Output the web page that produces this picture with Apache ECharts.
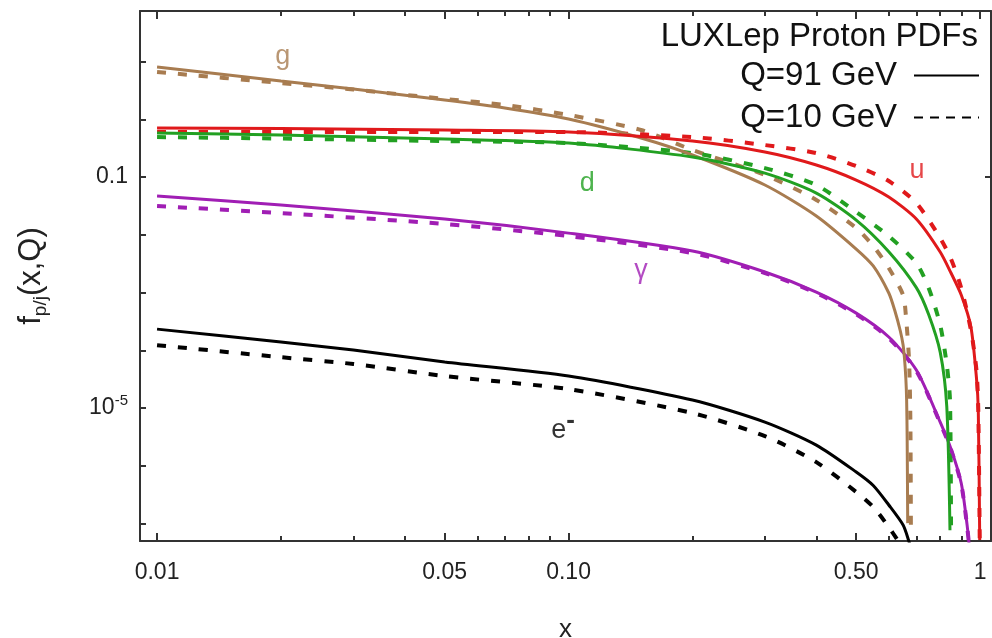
<!DOCTYPE html>
<html><head><meta charset="utf-8">
<script src="https://cdn.jsdelivr.net/npm/echarts@6/dist/echarts.min.js"></script>
<style>html,body{margin:0;padding:0;background:#fff}#c{width:992px;height:638px}</style>
</head><body><div id="c"></div>
<script>
// ---- axis ticks / labels ----
const xMajorTicks = [0.01, 0.05, 0.1, 0.5, 1];
const xMajorLabels = ['0.01', '0.05', '0.10', '0.50', '1'];
const xMinorTicks = [0.02, 0.03, 0.04, 0.06, 0.07, 0.08, 0.09, 0.2, 0.3, 0.4, 0.6, 0.7, 0.8, 0.9];
const yTicks = [1e-7, 1e-6, 1e-5, 1e-4, 1e-3, 1e-2, 0.1, 1, 10];
const yLabelValues = [0.1, 1e-5];

// ---- gluon g ----
const gX91 = [0.01, 0.02, 0.03, 0.05, 0.07, 0.1, 0.15, 0.2, 0.3, 0.4, 0.5, 0.55, 0.6, 0.62, 0.64, 0.65, 0.655, 0.66, 0.663, 0.665, 0.667];
const gQ91 = [8.05, 4.60, 3.35, 2.16, 1.57, 1.01, 0.474, 0.241, 0.0729, 0.0212, 5.68e-3, 2.89e-3, 9.83e-4, 4.99e-4, 2.16e-4, 1.24e-4, 7.37e-5, 3.32e-5, 1.38e-5, 2.8e-6, 1.02e-7];
const gX10 = [0.01, 0.02, 0.03, 0.05, 0.07, 0.1, 0.15, 0.2, 0.3, 0.4, 0.5, 0.55, 0.6, 0.65, 0.66, 0.672, 0.677, 0.679];
const gQ10 = [6.59, 4.25, 3.28, 2.25, 1.77, 1.19, 0.653, 0.294, 0.1086, 0.0401, 0.0131, 6.4e-3, 2.66e-3, 9.08e-4, 4.09e-4, 6.8e-5, 6.22e-6, 8.74e-8];

// ---- up quark u ----
const uX = [0.01, 0.02, 0.05, 0.1, 0.2, 0.3, 0.4, 0.5, 0.6, 0.7, 0.8, 0.85, 0.9, 0.95, 0.98, 0.99, 0.998];
const uQ91 = [0.707, 0.693, 0.653, 0.603, 0.421, 0.2716, 0.1618, 0.0889, 0.0452, 0.0188, 5.04e-3, 2.18e-3, 9.08e-4, 2.54e-4, 3.32e-5, 9.27e-6, 5.2e-8];
const uQ10 = [0.601, 0.601, 0.601, 0.601, 0.493, 0.358, 0.26, 0.155, 0.0853, 0.0355, 8.8e-3, 3.8e-3, 1.2e-3, 2.24e-4, 4.55e-5, 9.2e-6, 5.2e-8];

// ---- down quark d ----
const dX91 = [0.01, 0.02, 0.05, 0.1, 0.2, 0.3, 0.4, 0.5, 0.6, 0.7, 0.75, 0.8, 0.83, 0.845];
const dQ91 = [0.578, 0.533, 0.455, 0.388, 0.222, 0.117, 0.0528, 0.018, 5.1e-3, 1.22e-3, 4.17e-4, 9.3e-5, 1.06e-5, 7.7e-8];
const dX10 = [0.01, 0.02, 0.05, 0.1, 0.2, 0.3, 0.4, 0.5, 0.6, 0.7, 0.75, 0.8, 0.83, 0.845, 0.85];
const dQ10 = [0.493, 0.464, 0.42, 0.388, 0.26, 0.143, 0.0727, 0.0248, 9.5e-3, 3.24e-3, 1.2e-3, 2.74e-4, 5.6e-5, 1.38e-5, 7.7e-8];

// ---- photon gamma ----
const aX = [0.01, 0.02, 0.05, 0.1, 0.2, 0.3, 0.4, 0.5, 0.6, 0.7, 0.8, 0.85, 0.9, 0.93, 0.945];
const aQ91 = [0.0469, 0.0327, 0.0187, 0.0107, 5.23e-3, 2.27e-3, 1.02e-3, 4.41e-4, 1.7e-4, 4.55e-5, 5.7e-6, 1.95e-6, 5.0e-7, 9.4e-8, 3e-8];
const aQ10 = [0.0315, 0.0238, 0.0154, 9.5e-3, 4.83e-3, 2.18e-3, 9.8e-4, 4.2e-4, 1.63e-4, 4.4e-5, 5.5e-6, 1.9e-6, 4.8e-7, 9e-8, 3e-8];

// ---- electron e- ----
const eX91 = [0.01, 0.02, 0.03, 0.05, 0.1, 0.2, 0.3, 0.4, 0.5, 0.55, 0.6, 0.65, 0.67, 0.68];
const eQ91 = [2.33e-4, 1.39e-4, 1.01e-4, 6.26e-5, 3.58e-5, 1.38e-5, 5.73e-6, 2.29e-6, 7.83e-7, 4.57e-7, 2.10e-7, 9.46e-8, 5.2e-8, 3.5e-8];
const eX10 = [0.01, 0.02, 0.03, 0.05, 0.1, 0.2, 0.3, 0.4, 0.5, 0.55, 0.6, 0.63, 0.65];
const eQ10 = [1.23e-4, 7.6e-5, 5.8e-5, 3.58e-5, 2.13e-5, 8.2e-6, 3.27e-6, 1.16e-6, 3.53e-7, 1.94e-7, 8.74e-8, 5.2e-8, 3.8e-8];

// ---- curve label anchors (data coords) ----
const curveLabels = [
  { name: 'g', x: 0.0202, y: 11.97, color: '#a87c50' },
  { name: 'u', x: 0.703, y: 0.132, color: '#e0191b' },
  { name: 'd', x: 0.111, y: 0.0787, color: '#22a022' },
  { name: 'γ', x: 0.15, y: 2.45e-3, color: '#a01eb4' },
  { name: '{e|e}{s|-}', x: 0.097, y: 4.16e-6, color: '#000000' }
];

const FONT = '"Liberation Sans", Arial, sans-serif';
const colors = { g: '#a87c50', u: '#e0191b', d: '#22a022', a: '#a01eb4', e: '#000000' };
const pairs = (xs, ys) => xs.map((x, i) => [x, ys[i]]);
const isPow = (v, p) => Math.abs(Math.log10(v) - p) < 1e-6;

function mk(name, xs, ys, color, dashed, z) {
  return {
    type: 'line', name: name, data: pairs(xs, ys), xAxisIndex: 0, yAxisIndex: 0,
    showSymbol: false, symbol: 'none', smooth: 0.25, z: z,
    lineStyle: dashed ? { color: color, width: 4, type: [9, 12] } : { color: color, width: 3 },
    itemStyle: { color: color },
    silent: true, animation: false
  };
}

const series = [
  mk('e Q=10', eX10, eQ10, colors.e, true, 2), mk('e Q=91', eX91, eQ91, colors.e, false, 3),
  mk('γ Q=10', aX, aQ10, colors.a, true, 2), mk('γ Q=91', aX, aQ91, colors.a, false, 3),
  mk('g Q=10', gX10, gQ10, colors.g, true, 2), mk('g Q=91', gX91, gQ91, colors.g, false, 3),
  mk('d Q=10', dX10, dQ10, colors.d, true, 2), mk('d Q=91', dX91, dQ91, colors.d, false, 3),
  mk('u Q=10', uX, uQ10, colors.u, true, 2), mk('u Q=91', uX, uQ91, colors.u, false, 3),
  { type: 'line', name: 'Q=91 GeV', data: [], symbol: 'none', lineStyle: { color: '#000', width: 2.5 }, itemStyle: { color: '#000' } },
  { type: 'line', name: 'Q=10 GeV', data: [], symbol: 'none', lineStyle: { color: '#000', width: 2.5, type: [9, 7] }, itemStyle: { color: '#000' } },
  {
    type: 'scatter', name: 'labels', symbolSize: 0, silent: true, z: 5,
    data: curveLabels.map(l => ({
      value: [l.x, l.y],
      label: {
        show: true, position: 'inside', formatter: l.name, color: l.color, fontSize: 27, fontFamily: FONT,
        rich: { e: { fontSize: 27, color: l.color, fontFamily: FONT, lineHeight: 44 }, s: { fontSize: 26, fontWeight: 'bold', color: l.color, verticalAlign: 'top', lineHeight: 14 } }
      }
    }))
  }
];

const xBase = { type: 'log', min: 0.00909, max: 1.063, splitLine: { show: false } };
const lineStyle = { color: '#333', width: 2 };
const option = {
  animation: false,
  backgroundColor: '#ffffff',
  grid: { left: 140, right: 1, top: 11, bottom: 97, outerBoundsMode: 'none', containLabel: false },
  title: { text: 'LUXLep Proton PDFs', right: 14, top: 20, padding: 0, textStyle: { fontSize: 33, fontWeight: 'normal', fontFamily: FONT, color: '#111' } },
  legend: {
    data: ['Q=91 GeV', 'Q=10 GeV'], orient: 'vertical', right: 12, top: 59, padding: 0, align: 'right',
    itemWidth: 65, itemHeight: 14, itemGap: 9, selectedMode: false,
    itemStyle: { opacity: 0 },
    textStyle: { fontSize: 33, fontFamily: FONT, color: '#111', padding: [0, 12, 0, 0] }
  },
  xAxis: [
    Object.assign({}, xBase, {
      position: 'bottom', name: 'x', nameLocation: 'middle', nameGap: 76,
      nameTextStyle: { fontSize: 26, fontFamily: FONT, color: '#222' },
      axisLine: { lineStyle: lineStyle },
      axisTick: { inside: true, length: 8, lineStyle: { color: '#333', width: 2 }, customValues: xMajorTicks },
      axisLabel: {
        customValues: xMajorTicks, margin: 20, fontSize: 23, fontFamily: FONT, color: '#222',
        formatter: v => { const i = xMajorTicks.findIndex(t => Math.abs(t - v) / t < 1e-6); return i >= 0 ? xMajorLabels[i] : ''; }
      }
    }),
    Object.assign({}, xBase, {
      position: 'bottom', axisLine: { show: false }, axisLabel: { show: false },
      axisTick: { inside: true, length: 5, lineStyle: { color: '#333', width: 2 }, customValues: xMinorTicks }
    }),
    Object.assign({}, xBase, {
      position: 'top', axisLine: { lineStyle: lineStyle }, axisLabel: { show: false },
      axisTick: { inside: true, length: 8, lineStyle: { color: '#333', width: 2 }, customValues: xMajorTicks }
    }),
    Object.assign({}, xBase, {
      position: 'top', axisLine: { show: false }, axisLabel: { show: false },
      axisTick: { inside: true, length: 5, lineStyle: { color: '#333', width: 2 }, customValues: xMinorTicks }
    })
  ],
  yAxis: [
    {
      type: 'log', min: 5e-8, max: 75, position: 'left', splitLine: { show: false },
      name: '{f|f}{sub|p/j}{f|(x,Q)}', nameLocation: 'middle', nameGap: 90, nameRotate: 90,
      nameTextStyle: { fontSize: 31, fontFamily: FONT, color: '#222',
        rich: { f: { fontSize: 31, fontFamily: FONT, color: '#222', lineHeight: 38 }, sub: { fontSize: 19, fontFamily: FONT, color: '#222', lineHeight: 19, verticalAlign: 'bottom' } } },
      axisLine: { lineStyle: lineStyle },
      axisTick: { inside: true, length: 6, lineStyle: { color: '#333', width: 2 }, customValues: yTicks },
      axisLabel: {
        customValues: yLabelValues, margin: 12, fontSize: 23, fontFamily: FONT, color: '#222',
        formatter: v => isPow(v, -1) ? '0.1' : (isPow(v, -5) ? '{b|10}{s|-5}' : ''),
        rich: { b: { fontSize: 23, fontFamily: FONT, color: '#222', lineHeight: 30 }, s: { fontSize: 15, fontFamily: FONT, color: '#222', lineHeight: 15, verticalAlign: 'top' } }
      }
    },
    {
      type: 'log', min: 5e-8, max: 75, position: 'right', splitLine: { show: false },
      axisLine: { lineStyle: lineStyle }, axisLabel: { show: false },
      axisTick: { inside: true, length: 6, lineStyle: { color: '#333', width: 2 }, customValues: yLabelValues }
    }
  ],
  series: series
};
const chart = echarts.init(document.getElementById('c'), null, { renderer: 'canvas' });
chart.setOption(option);
</script></body></html>
